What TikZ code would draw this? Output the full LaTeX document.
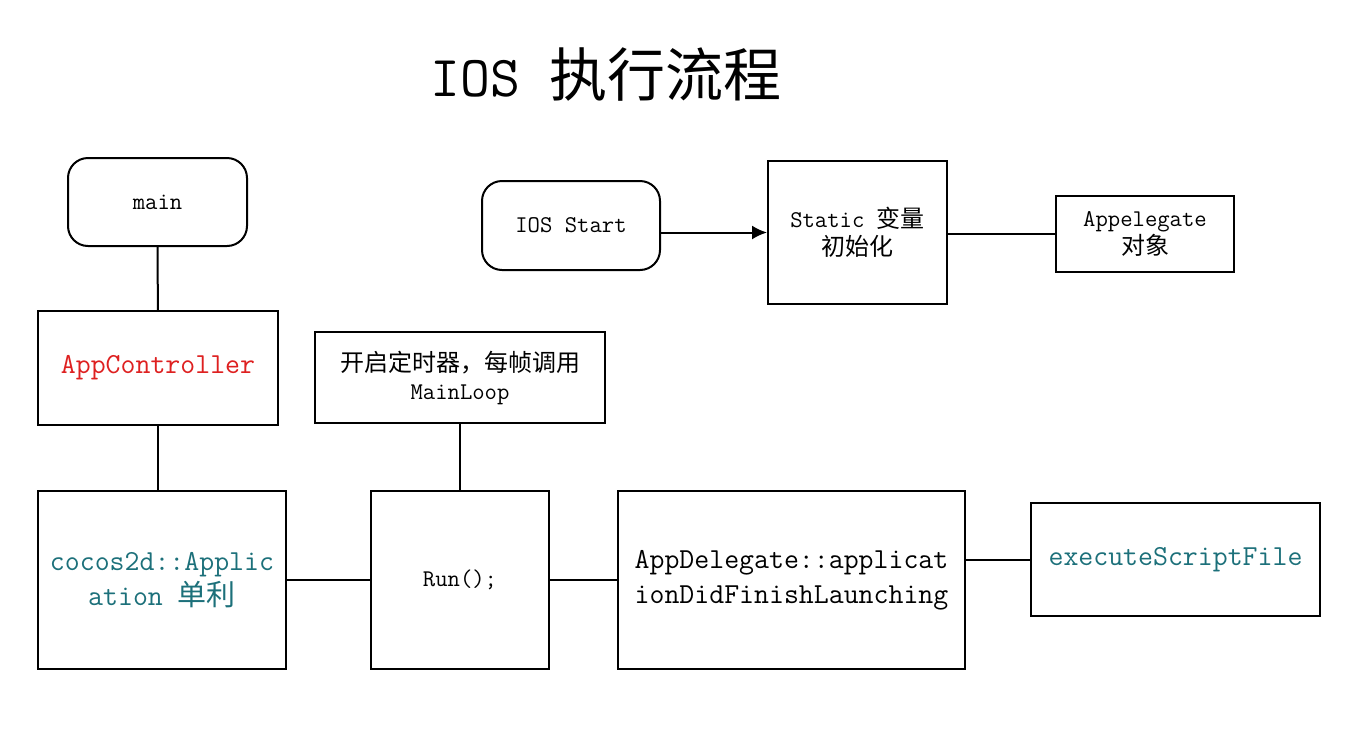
\documentclass[tikz,border=0pt]{standalone}
\usepackage{fontspec}
\newfontfamily\cjk{Noto Sans CJK SC}
\usetikzlibrary{arrows.meta}
\definecolor{redtxt}{RGB}{222,32,32}
\definecolor{tealtxt}{RGB}{28,112,122}
\begin{document}
\begin{tikzpicture}[x=1pt,y=-1pt,line width=2pt,
  box/.style={draw, rectangle, inner sep=0pt, align=center},
  rbox/.style={box, rounded corners=20pt},
  sm/.style={font=\ttfamily\fontsize{24}{28}\selectfont},
  lg/.style={font=\ttfamily\fontsize{29}{35}\selectfont},
  conn/.style={line width=2pt}]
\useasboundingbox[fill=white] (0,0) rectangle (1370,750);

\node[font=\ttfamily\fontsize{58}{62}\selectfont] (title) at (606,75) {IOS {\cjk 执行流程}};

\node[rbox, sm, minimum width=179pt, minimum height=88pt] (main) at (157.5,202) {main};
\node[box, lg, text=redtxt, minimum width=240pt, minimum height=114pt] (appc) at (158,368) {AppController};
\node[box, lg, text=tealtxt, minimum width=248pt, minimum height=178pt] (cocos) at (162,580) {cocos2d::Applic\\ation {\cjk 单利}};
\node[box, sm, minimum width=178pt, minimum height=178pt] (run) at (460,580) {Run();};
\node[box, sm, minimum width=290pt, minimum height=91pt] (timer) at (460,377.5) {{\cjk 开启定时器，每帧调用}\\MainLoop};
\node[box, lg, minimum width=347pt, minimum height=178pt] (appd) at (791.5,580) {AppDelegate::applicat\\ionDidFinishLaunching};
\node[box, lg, text=tealtxt, minimum width=289pt, minimum height=113pt] (exec) at (1175.5,559.5) {executeScriptFile};

\node[rbox, sm, minimum width=178pt, minimum height=89pt] (start) at (571,225.5) {IOS Start};
\node[box, sm, minimum width=179pt, minimum height=143pt] (static) at (857.5,232.5) {Static {\cjk 变量}\\{\cjk 初始化}};
\node[box, sm, minimum width=178pt, minimum height=76pt] (appe) at (1145,234) {Appelegate\\{\cjk 对象}};

\draw[conn] (main) -- (appc);
\draw[conn] (appc) -- (cocos.north -| appc.south);
\draw[conn] (cocos) -- (run);
\draw[conn] (run) -- (timer);
\draw[conn] (run) -- (appd);
\draw[conn] (appd.east |- exec.west) -- (exec);
\draw[conn, -{Latex[length=15pt,width=14pt]}] (start.east |- static.west) -- (static.west);
\draw[conn] (static.east |- appe.west) -- (appe);
\end{tikzpicture}
\end{document}
